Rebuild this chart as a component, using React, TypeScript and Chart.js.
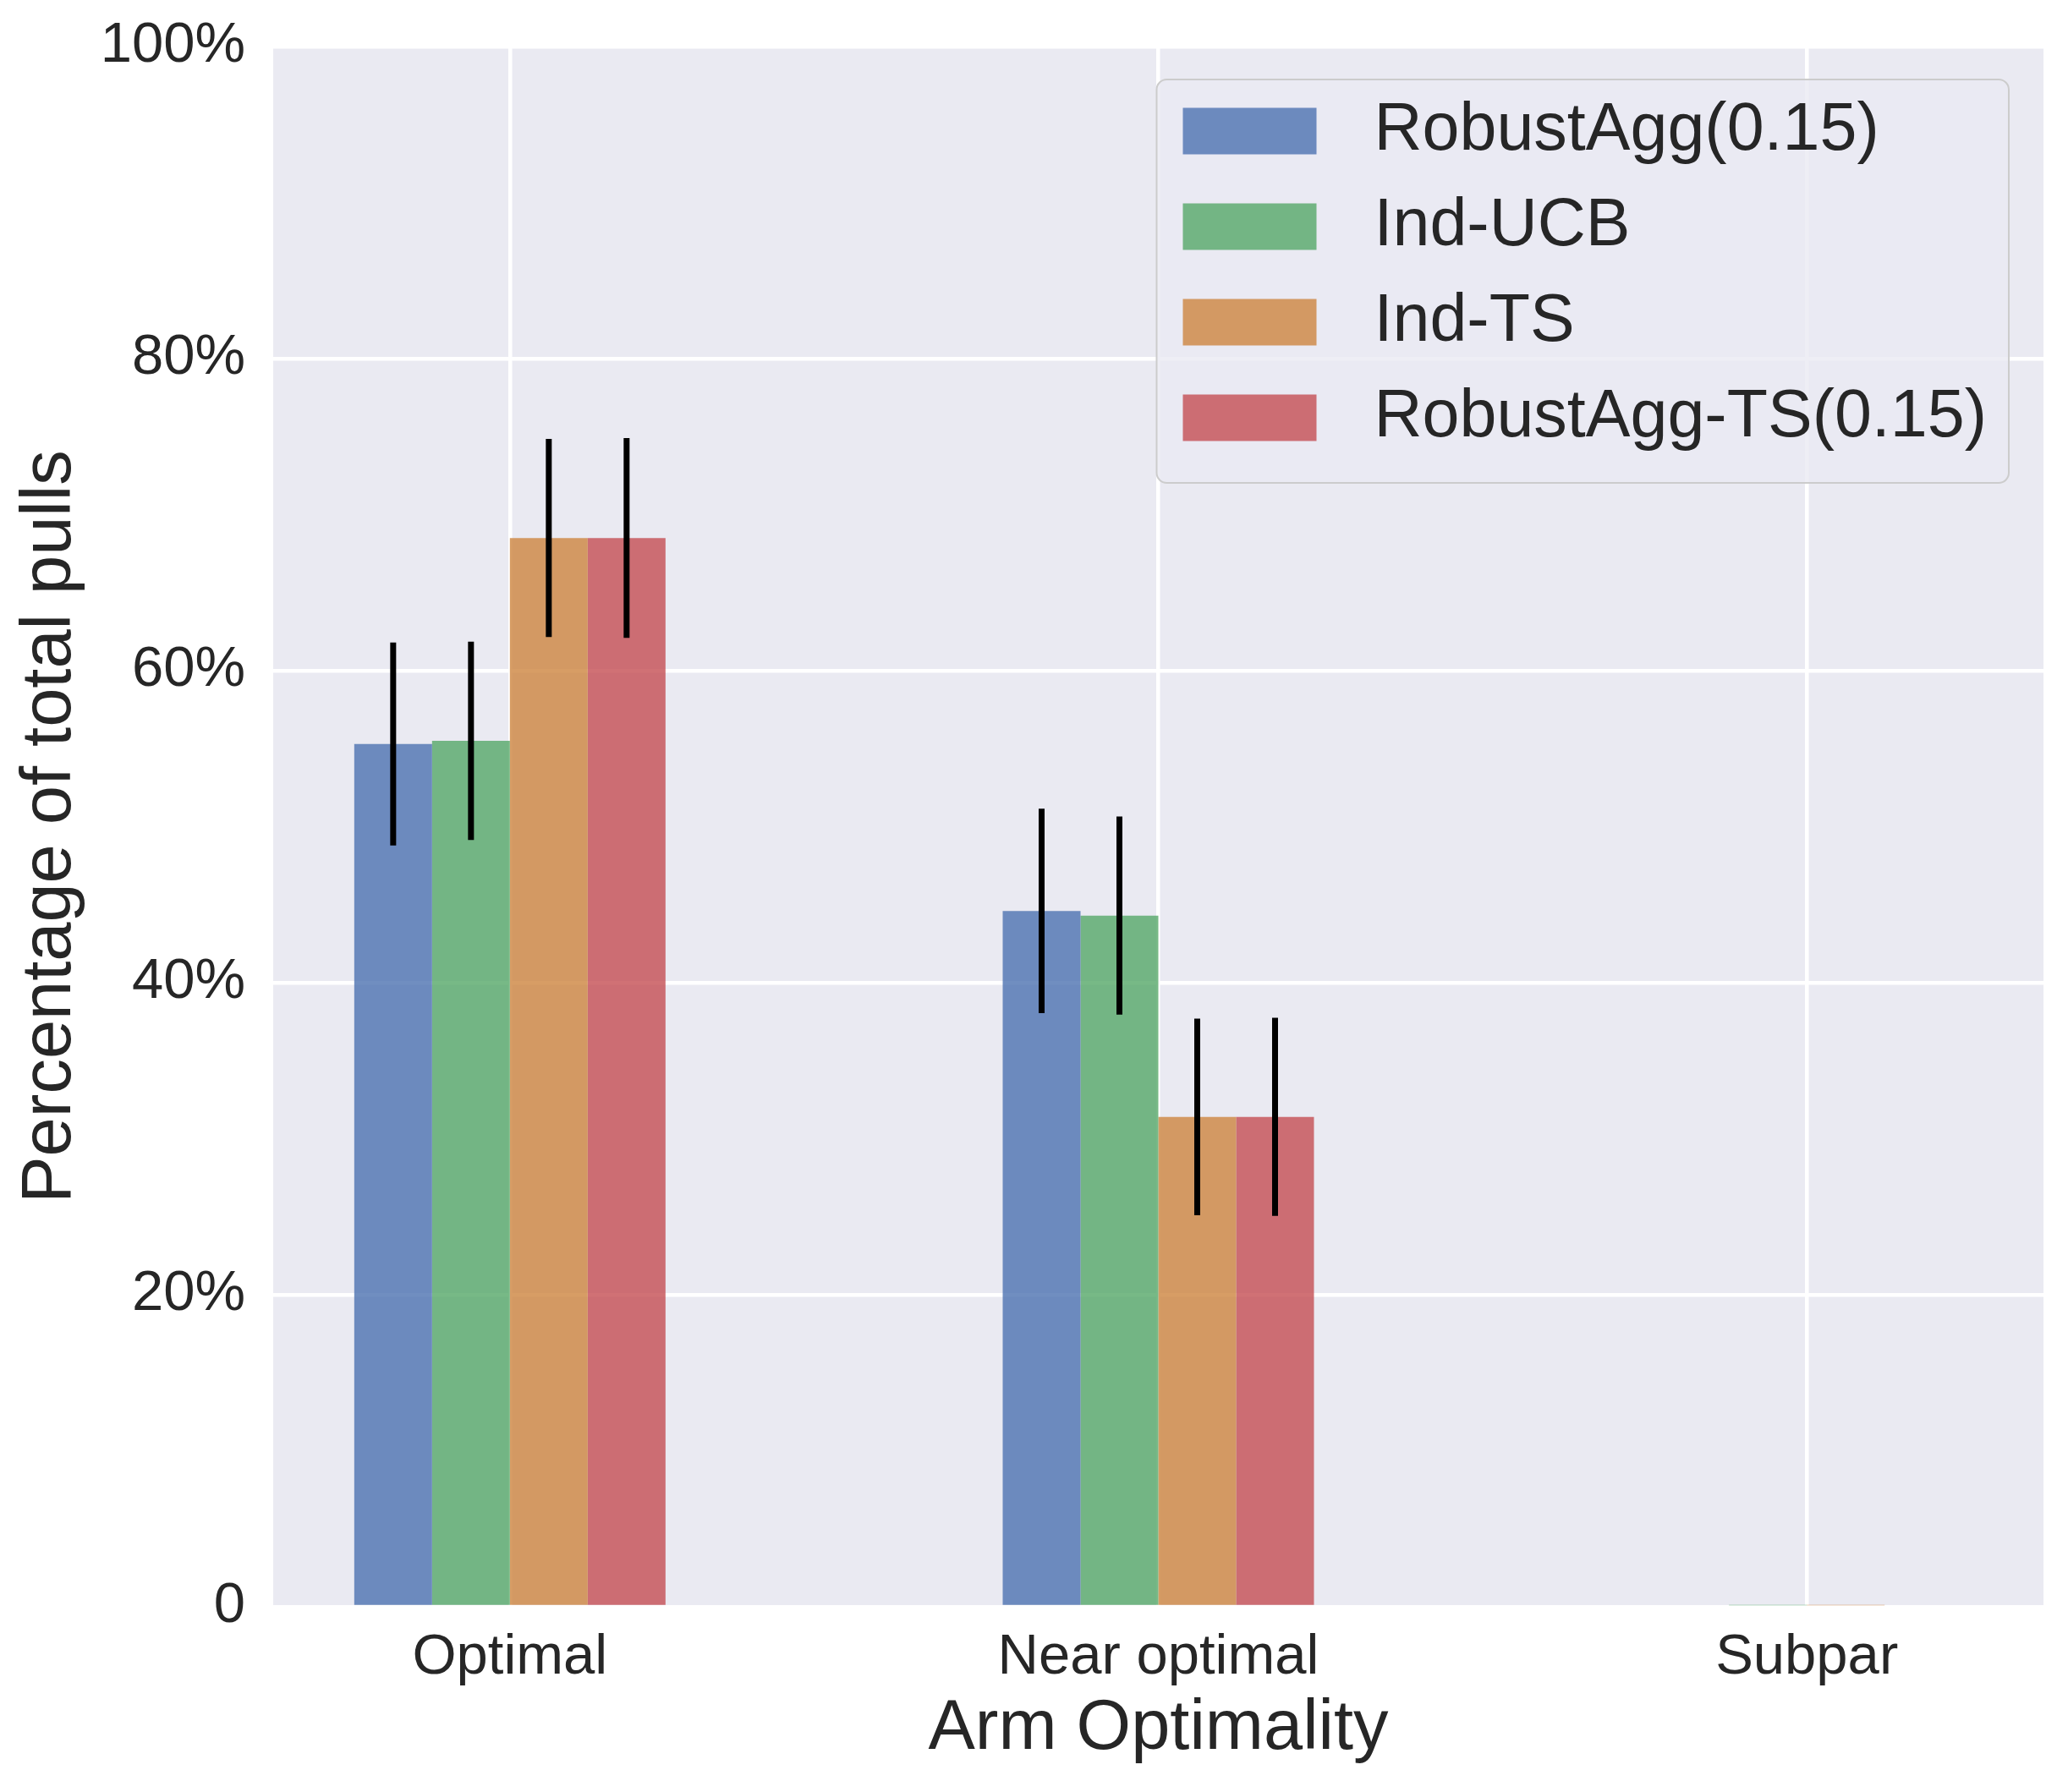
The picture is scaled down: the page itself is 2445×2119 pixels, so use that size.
import { useEffect, useRef } from 'react';
import { Chart, registerables } from 'chart.js';

Chart.register(...registerables);

// categories on the x axis
const categories = ['Optimal', 'Near optimal', 'Subpar'];

// series (percentage of total pulls)
const seriesNames = ['RobustAgg(0.15)', 'Ind-UCB', 'Ind-TS', 'RobustAgg-TS(0.15)'];
const robustAgg = [55.3, 44.6, 0];
const indUcb = [55.5, 44.3, 0.1];
const indTs = [68.5, 31.4, 0.1];
const robustAggTs = [68.5, 31.4, 0];

// half-length of error bars
const robustAggErr = [6.5, 6.55, 0];
const indUcbErr = [6.35, 6.35, 0];
const indTsErr = [6.35, 6.3, 0];
const robustAggTsErr = [6.4, 6.35, 0];

const yTicks = [0, 20, 40, 60, 80, 100];

const seriesValues = [robustAgg, indUcb, indTs, robustAggTs];
const seriesErrors = [robustAggErr, indUcbErr, indTsErr, robustAggTsErr];
const seriesColors = [
  'rgba(76, 114, 176, 0.8)',
  'rgba(85, 168, 104, 0.8)',
  'rgba(205, 133, 63, 0.8)',
  'rgba(196, 78, 82, 0.8)',
];

const FONT = '"Liberation Sans", Arial, sans-serif';
const TEXT = '#262626';

const backgroundPlugin = {
  id: 'axesBackground',
  beforeDraw(chart: any) {
    const { ctx, chartArea } = chart;
    ctx.save();
    ctx.fillStyle = '#EAEAF2';
    ctx.fillRect(chartArea.left, chartArea.top, chartArea.right - chartArea.left, chartArea.bottom - chartArea.top);
    ctx.restore();
  },
};

const errorBarPlugin = {
  id: 'errorBars',
  afterDatasetsDraw(chart: any) {
    const { ctx } = chart;
    const yScale = chart.scales.y;
    ctx.save();
    ctx.strokeStyle = '#000000';
    ctx.lineWidth = 7;
    ctx.lineCap = 'butt';
    chart.data.datasets.forEach((ds: any, i: number) => {
      const meta = chart.getDatasetMeta(i);
      const errs = seriesErrors[i];
      meta.data.forEach((bar: any, j: number) => {
        if (!errs[j]) return;
        const v = ds.data[j].y;
        ctx.beginPath();
        ctx.moveTo(bar.x, yScale.getPixelForValue(v - errs[j]));
        ctx.lineTo(bar.x, yScale.getPixelForValue(v + errs[j]));
        ctx.stroke();
      });
    });
    ctx.restore();
  },
};

// matplotlib-style legend inside the axes, upper right
const legendBoxPlugin = {
  id: 'legendBox',
  afterDraw(chart: any) {
    const { ctx, chartArea } = chart;
    const rowGap = 113;
    const swatchW = 158;
    const swatchH = 55;
    ctx.save();
    ctx.font = `79px ${FONT}`;
    const maxW = Math.max(...chart.data.datasets.map((d: any) => ctx.measureText(d.label).width));
    const boxW = 257 + maxW + 26;
    const boxH = 477;
    const right = chartArea.right - 41;
    const top = chartArea.top + 39;
    const left = right - boxW;

    ctx.beginPath();
    ctx.roundRect(left, top, boxW, boxH, 12);
    ctx.fillStyle = 'rgba(234, 234, 242, 0.8)';
    ctx.fill();
    ctx.lineWidth = 2;
    ctx.strokeStyle = '#cccccc';
    ctx.stroke();

    chart.data.datasets.forEach((d: any, i: number) => {
      const cy = top + 61 + i * rowGap;
      ctx.fillStyle = d.backgroundColor;
      ctx.fillRect(left + 31, cy - swatchH / 2, swatchW, swatchH);
      ctx.fillStyle = TEXT;
      ctx.textAlign = 'left';
      ctx.textBaseline = 'middle';
      ctx.fillText(d.label, left + 257, cy);
    });
    ctx.restore();
  },
};

export default function App() {
  const canvasRef = useRef<HTMLCanvasElement | null>(null);
  const chartRef = useRef<Chart | null>(null);

  useEffect(() => {
    if (!canvasRef.current) return;
    if (chartRef.current) chartRef.current.destroy();

    const ctx = canvasRef.current.getContext('2d');
    if (!ctx) return;

    chartRef.current = new Chart(ctx, {
      type: 'bar',
      data: {
        datasets: seriesNames.map((name, i) => ({
          label: name,
          data: categories.map((_, j) => ({ x: j, y: seriesValues[i][j] })),
          backgroundColor: seriesColors[i],
          borderWidth: 0,
          categoryPercentage: 0.48,
          barPercentage: 1.0,
        })),
      },
      options: {
        animation: false,
        responsive: true,
        maintainAspectRatio: false,
        devicePixelRatio: 1,
        layout: { padding: { left: 0, top: 55, right: 29, bottom: 0 } },
        plugins: {
          legend: { display: false },
          tooltip: { enabled: false },
        },
        scales: {
          x: {
            type: 'linear',
            min: -0.365,
            max: 2.365,
            offset: false,
            afterBuildTicks: (scale: any) => {
              scale.ticks = categories.map((_, i) => ({ value: i }));
            },
            afterFit: (scale: any) => {
              scale.height = 219;
              scale.paddingLeft = 0;
              scale.paddingRight = 0;
            },
            grid: { color: '#ffffff', lineWidth: 4.5, drawTicks: false, offset: false },
            border: { display: false },
            ticks: {
              padding: 20,
              color: TEXT,
              font: { family: FONT, size: 67 },
              maxRotation: 0,
              autoSkip: false,
              callback: (v: any) => categories[v as number] ?? '',
            },
            title: {
              display: true,
              text: 'Arm Optimality',
              color: TEXT,
              font: { family: FONT, size: 83 },
              padding: { top: 0, bottom: 24 },
            },
          },
          y: {
            min: 0,
            max: 100,
            afterBuildTicks: (scale: any) => {
              scale.ticks = yTicks.map((v) => ({ value: v }));
            },
            afterFit: (scale: any) => {
              scale.width = 323;
              scale.paddingTop = 40;
              scale.paddingBottom = 40;
            },
            grid: { color: '#ffffff', lineWidth: 4.5, drawTicks: false },
            border: { display: false },
            ticks: {
              padding: 33,
              color: TEXT,
              font: { family: FONT, size: 67 },
              callback: (v: any) => (v === 0 ? '0' : `${v}%`),
            },
            title: {
              display: true,
              text: 'Percentage of total pulls',
              color: TEXT,
              font: { family: FONT, size: 83 },
              padding: { top: 10, bottom: 0 },
            },
          },
        },
      },
      plugins: [backgroundPlugin, errorBarPlugin, legendBoxPlugin],
    } as any);

    return () => {
      if (chartRef.current) {
        chartRef.current.destroy();
        chartRef.current = null;
      }
    };
  }, []);

  return (
    <div style={{ position: 'absolute', left: 0, top: 0, width: 2445, height: 2119, background: '#ffffff' }}>
      <canvas ref={canvasRef} />
    </div>
  );
}
